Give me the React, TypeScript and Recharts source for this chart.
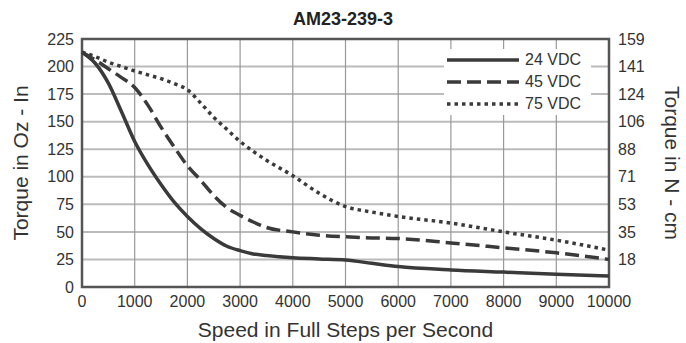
import React from "react";
import {
  LineChart,
  Line,
  XAxis,
  YAxis,
  CartesianGrid,
  ReferenceArea,
  Label,
} from "recharts";

const speeds = [
  0, 250, 500, 750, 1000, 1250, 1500, 1750, 2000, 2250, 2500, 2750, 3000,
  3250, 3500, 4000, 4500, 5000, 5500, 6000, 7000, 8000, 9000, 10000,
];
const vdc24 = [
  213, 203, 185, 159, 132, 111, 93, 77, 64, 53, 44, 37, 33, 30, 28.5, 26.5,
  25.5, 24.5, 21.5, 18.5, 15.5, 13.5, 11.5, 10,
];
const vdc45 = [
  213, 206, 198, 190, 181, 165, 145, 127, 110, 97, 83, 72, 65, 59, 54, 50, 47,
  45.5, 44.5, 44, 40, 35.5, 31, 25,
];
const vdc75 = [
  213, 209, 204, 200, 196, 192.5, 189, 184.5, 179, 167, 154, 143, 132, 123,
  115, 101, 85, 73, 68, 64, 58, 50, 42.5, 33.5,
];

const xTicks = [0, 1000, 2000, 3000, 4000, 5000, 6000, 7000, 8000, 9000, 10000];
const ozTicks = [0, 25, 50, 75, 100, 125, 150, 175, 200, 225];
const ncmTicks = [25, 50, 75, 100, 125, 150, 175, 200, 225];
const ncmLabels = ["18", "35", "53", "71", "88", "106", "124", "141", "159"];

const seriesNames = ["24 VDC", "45 VDC", "75 VDC"];
const dashes = ["", "14 6", "3.5 4"];

const data = speeds.map((s, i) => ({
  speed: s,
  v24: vdc24[i],
  v45: vdc45[i],
  v75: vdc75[i],
}));

const FONT = "'Liberation Sans', Arial, Helvetica, sans-serif";
const INK = "#3a3a3a";
const tickStyle = { fill: "#333", fontSize: 16, fontFamily: FONT };
const titleStyle = { fill: "#333", fontSize: 21, fontFamily: FONT };

function ChartLegend() {
  return (
    <div
      style={{
        position: "absolute",
        left: 444,
        top: 49,
        width: 147,
        height: 66,
        background: "#fff",
        fontFamily: FONT,
        fontSize: 16,
        color: "#333",
      }}
    >
      {seriesNames.map((name, i) => (
        <div
          key={name}
          style={{ display: "flex", alignItems: "center", height: 22 }}
        >
          <svg width={74} height={8} style={{ marginLeft: 3 }}>
            <line
              x1={0}
              y1={4}
              x2={72}
              y2={4}
              stroke={INK}
              strokeWidth={3.5}
              strokeDasharray={dashes[i] || undefined}
            />
          </svg>
          <span style={{ marginLeft: 4 }}>{name}</span>
        </div>
      ))}
    </div>
  );
}

export default function App() {
  return (
    <div
      style={{
        position: "absolute",
        left: 0,
        top: 0,
        width: 686,
        height: 343,
        background: "#fff",
      }}
    >
      <div
        style={{
          position: "absolute",
          left: 0,
          top: 9,
          width: 686,
          textAlign: "center",
          fontFamily: FONT,
          fontWeight: "bold",
          fontSize: 18,
          color: "#222",
        }}
      >
        AM23-239-3
      </div>
      <LineChart
        width={686}
        height={343}
        data={data}
        margin={{ top: 39, right: 32, bottom: 26, left: 32 }}
      >
        <CartesianGrid
          yAxisId="left"
          vertical={false}
          stroke="#bbb"
          strokeWidth={2}
        />
        <CartesianGrid
          yAxisId="left"
          horizontal={false}
          stroke="#999"
          strokeWidth={1.2}
        />
        <XAxis
          dataKey="speed"
          type="number"
          domain={[0, 10000]}
          ticks={xTicks}
          tickSize={0}
          tickMargin={9}
          axisLine={false}
          tick={tickStyle}
          height={30}
        >
          <Label
            value="Speed in Full Steps per Second"
            position="center"
            dy={28}
            style={titleStyle}
          />
        </XAxis>
        <YAxis
          yAxisId="left"
          type="number"
          domain={[0, 225]}
          ticks={ozTicks}
          tickSize={0}
          tickMargin={8}
          axisLine={false}
          tick={tickStyle}
          width={50}
        >
          <Label
            value="Torque in Oz - In"
            angle={-90}
            position="center"
            dx={-36}
            style={{ ...titleStyle, textAnchor: "middle" }}
          />
        </YAxis>
        <YAxis
          yAxisId="right"
          orientation="right"
          type="number"
          domain={[0, 225]}
          ticks={ncmTicks}
          tickFormatter={(v: number, i: number) =>
            ncmLabels[ncmTicks.indexOf(v)] ?? ncmLabels[i]
          }
          tickSize={0}
          tickMargin={9}
          axisLine={false}
          tick={tickStyle}
          width={45}
        >
          <Label
            value="Torque in N - cm"
            angle={90}
            position="center"
            dx={41}
            style={{ ...titleStyle, textAnchor: "middle" }}
          />
        </YAxis>
        <ReferenceArea
          yAxisId="left"
          x1={0}
          x2={10000}
          y1={0}
          y2={225}
          fill="none"
          stroke="#555"
          strokeWidth={2.5}
          ifOverflow="visible"
        />
        <Line
          yAxisId="left"
          dataKey="v24"
          type="monotone"
          stroke={INK}
          strokeWidth={3.5}
          dot={false}
          isAnimationActive={false}
        />
        <Line
          yAxisId="left"
          dataKey="v45"
          type="monotone"
          stroke={INK}
          strokeWidth={3.5}
          strokeDasharray={dashes[1]}
          dot={false}
          isAnimationActive={false}
        />
        <Line
          yAxisId="right"
          dataKey="v75"
          type="monotone"
          stroke={INK}
          strokeWidth={3.5}
          strokeDasharray={dashes[2]}
          dot={false}
          isAnimationActive={false}
        />
      </LineChart>
      <ChartLegend />
    </div>
  );
}
